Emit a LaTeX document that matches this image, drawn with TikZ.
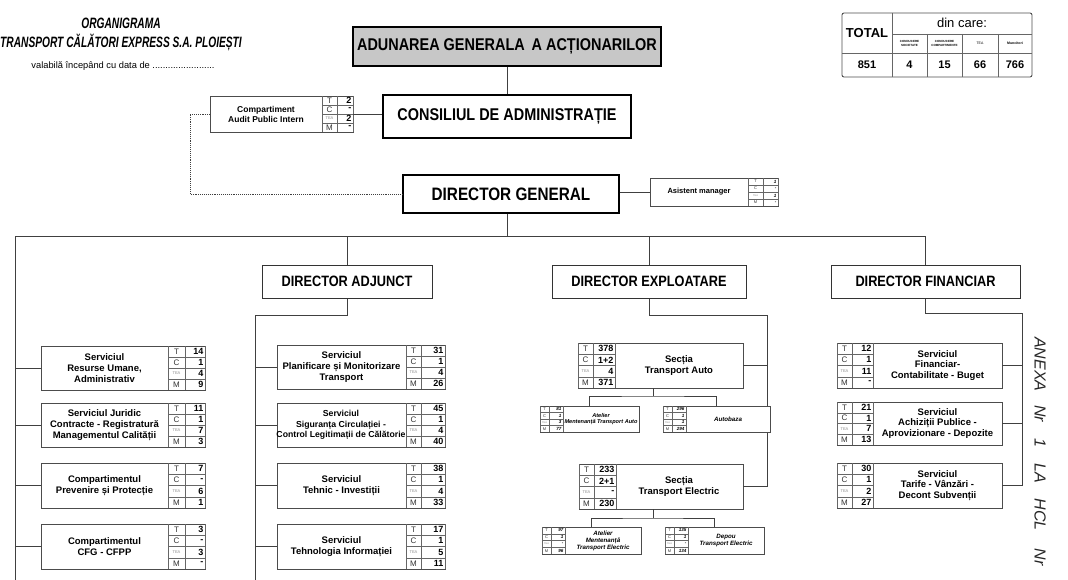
\documentclass[tikz,border=0pt]{standalone}
\usepackage{fontspec}
\setmainfont{Liberation Sans}
\newfontfamily\cnd[FakeStretch=0.85]{Liberation Sans}
\newfontfamily\cndt[FakeStretch=0.68]{Liberation Sans}
\newcommand{\rbox}[5]{\node[bx, anchor=north west, minimum width={(#4)-(#2)}, minimum height={(#5)-(#3)}] (#1) at (#2,#3) {};}
\newcommand{\tb}[8]{%
 \draw[gl] (#2,#5) -- (#2,#6) (#3,#5) -- (#3,#6) (#4,#5) -- (#4,#6);
 \foreach \k in {1,2,3}{\draw[gl] (#2,{#5+\k*(#6-#5)/4}) -- (#4,{#5+\k*(#6-#5)/4});}
 \node[tl#8] (#1-lT) at ({(#2+#3)/2},{#5+0.5*(#6-#5)/4}) {T};
 \node[tl#8] (#1-lC) at ({(#2+#3)/2},{#5+1.5*(#6-#5)/4}) {C};
 \node[tt#8] (#1-lE) at ({(#2+#3)/2},{#5+2.5*(#6-#5)/4}) {TEA};
 \node[tl#8] (#1-lM) at ({(#2+#3)/2},{#5+3.5*(#6-#5)/4}) {M};
 \foreach \vv [count=\i] in {#7}{\node[tv#8] (#1-v\i) at ({#4-1.5},{#5+(\i-0.5)*(#6-#5)/4}) {\vv};}
}
\tikzset{
 ln/.style={draw=black!75, line width=0.9pt},
 bx/.style={draw=black!70, line width=0.8pt, fill=white, inner sep=0pt, outer sep=0pt},
 gl/.style={draw=black!60, line width=0.5pt},
 tlB/.style={inner sep=0pt, font=\fontsize{8}{8}\selectfont, text=black!80},
 ttB/.style={inner sep=0pt, font=\fontsize{4}{4}\selectfont, text=black!45},
 tvB/.style={inner sep=0pt, anchor=east, font=\bfseries\fontsize{9}{9}\selectfont},
 tlS/.style={inner sep=0pt, font=\fontsize{4}{4}\selectfont, text=black!80},
 ttS/.style={inner sep=0pt, font=\fontsize{2.5}{2.5}\selectfont, text=black!45},
 tvS/.style={inner sep=0pt, anchor=east, font=\bfseries\itshape\fontsize{4.5}{4.5}\selectfont},
 tx/.style={inner sep=0pt, align=center, font=\bfseries\fontsize{9.5}{10.8}\selectfont},
 txs/.style={inner sep=0pt, align=center, font=\bfseries\itshape\fontsize{6.2}{7}\selectfont},
 head/.style={draw=black, line width=1.4pt, fill=white, inner sep=0pt, font=\cnd\bfseries\fontsize{17}{17}\selectfont},
 dir/.style={draw=black!80, line width=1pt, fill=white, inner sep=0pt, minimum height=33, font=\cnd\bfseries\fontsize{15}{15}\selectfont},
 tt/.style={inner sep=0pt, align=center}
}
\begin{document}
\begin{tikzpicture}[x=1pt, y=-1pt]
\useasboundingbox (0,0) rectangle (1068,580);
% title
\node[tt, font=\cndt\bfseries\itshape\fontsize{15}{15}\selectfont] (t1) at (121,23) {ORGANIGRAMA};
\node[tt, font=\cndt\bfseries\itshape\fontsize{15}{15}\selectfont] (t2) at (121,42) {TRANSPORT CĂLĂTORI EXPRESS S.A. PLOIEȘTI};
\node[tt, font=\fontsize{9.3}{10}\selectfont] (t3) at (123,66) {valabilă începând cu data de ........................};
% summary table
\draw[draw=black!70, line width=0.9pt, rounded corners=2pt] (842,13) rectangle (1032,77);
\draw[gl, line width=0.7pt] (892,13) -- (892,77) (892,34) -- (1032,34) (842,53) -- (1032,53)
  (927,34) -- (927,77) (962,34) -- (962,77) (998,34) -- (998,77);
\node[tt, font=\bfseries\fontsize{13}{13}\selectfont] (tot) at (867,33) {TOTAL};
\node[tt, font=\fontsize{13}{13}\selectfont] (din) at (962,23) {din care:};
\node[tt, font=\bfseries\fontsize{3}{3.6}\selectfont] (h1) at (909.5,43.5) {CONDUCERE\\SOCIETATE};
\node[tt, font=\bfseries\fontsize{3}{3.6}\selectfont] (h2) at (944.5,43.5) {CONDUCERE\\COMPARTIMENTE};
\node[tt, font=\fontsize{3.5}{3.6}\selectfont] (h3) at (980,43.5) {TEA};
\node[tt, font=\bfseries\fontsize{3.5}{3.6}\selectfont] (h4) at (1015,43.5) {Muncitori};
\foreach \xx/\vv/\nn in {867/851/a,909.5/4/b,944.5/15/c,980/66/d,1015/766/e}
  {\node[tt, font=\bfseries\fontsize{11}{11}\selectfont] (tv\nn) at (\xx,65) {\vv};}
% top hierarchy
\node[head, fill=black!22, minimum width=308, minimum height=39] (aga) at (507,46.5) {ADUNAREA GENERALA\, A ACȚIONARILOR};
\node[head, minimum width=248, minimum height=43] (cda) at (507,116.5) {CONSILIUL DE ADMINISTRAȚIE};
\node[head, minimum width=216, minimum height=38, font=\cnd\bfseries\fontsize{18}{18}\selectfont] (dg) at (511,194) {DIRECTOR GENERAL};
\draw[ln] (aga.south) -- (aga.south |- cda.north);
\draw[ln] (cda.south -| aga.south) -- (cda.south -| aga.south |- dg.north);
% audit
\rbox{aud}{210}{96}{353}{132}
\node[tx, font=\bfseries\fontsize{8.5}{10}\selectfont] (aud-t) at (266,114) {Compartiment\\Audit Public Intern};
\tb{audt}{322}{337}{353}{96}{132}{2,-,2,-}{B}
\draw[ln] (aud.east) -- (aud.east -| cda.west);
\coordinate (dl) at (190,194);
\draw[ln, densely dotted] (aud.west) -| (dl) -- (dg.west);
% asistent
\rbox{asm}{650}{178}{778}{206}
\node[tx, font=\bfseries\fontsize{7.5}{9}\selectfont] (asm-t) at (699,192) {Asistent manager};
\tb{asmt}{748}{763}{778}{178}{206}{1,-,1,-}{S}
\draw[ln] (dg.east |- asm.west) -- (asm.west);
% bus
\coordinate (lb) at (15,236);
\draw[ln] (aga.south |- dg.south) -- (aga.south |- lb);
\node[dir, minimum width=170] (da) at (347,281.5) {DIRECTOR ADJUNCT};
\node[dir, minimum width=194] (de) at (649,281.5) {DIRECTOR EXPLOATARE};
\node[dir, minimum width=189] (df) at (925.5,281.5) {DIRECTOR FINANCIAR};
\draw[ln] (15,585) -- (lb) -- (df.north |- lb) -- (df.north);
\draw[ln] (da.north |- lb) -- (da.north);
\draw[ln] (de.north |- lb) -- (de.north);
% left column
\rbox{ru}{41}{346}{205}{390}
\node[tx] (ru-t) at (104.5,368) {Serviciul\\Resurse Umane,\\Administrativ};
\tb{rut}{168}{185}{205}{346}{390}{14,1,4,9}{B}
\rbox{jur}{41}{403}{205}{447}
\node[tx] (jur-t) at (104.5,425) {Serviciul Juridic\\Contracte - Registratură\\Managementul Calității};
\tb{jurt}{168}{185}{205}{403}{447}{11,1,7,3}{B}
\rbox{prev}{41}{463}{205}{508}
\node[tx] (prev-t) at (104.5,485.5) {Compartimentul\\Prevenire și Protecție};
\tb{prevt}{168}{185}{205}{463}{508}{7,-,6,1}{B}
\rbox{cfg}{41}{524}{205}{569}
\node[tx] (cfg-t) at (104.5,546.5) {Compartimentul\\CFG - CFPP};
\tb{cfgt}{168}{185}{205}{524}{569}{3,-,3,-}{B}
\foreach \n in {ru,jur,prev,cfg}{\draw[ln] (\n.west) -- (\n.west -| lb);}
% director adjunct column
\coordinate (c2) at (255,315);
\draw[ln] (da.south) -- (da.south |- c2) -- (c2) -- (255,585);
\rbox{pl}{277}{345}{445}{389}
\node[tx] (pl-t) at (341.5,367) {Serviciul\\Planificare și Monitorizare\\Transport};
\tb{plt}{406}{421}{445}{345}{389}{31,1,4,26}{B}
\rbox{sig}{277}{403}{445}{447}
\node[tx, font=\bfseries\fontsize{8.7}{10.8}\selectfont] (sig-t) at (341,425) {Serviciul\\Siguranța Circulației -\\Control Legitimații de Călătorie};
\tb{sigt}{406}{421}{445}{403}{447}{45,1,4,40}{B}
\rbox{teh}{277}{463}{445}{508}
\node[tx] (teh-t) at (341.5,485.5) {Serviciul\\Tehnic - Investiții};
\tb{teht}{406}{421}{445}{463}{508}{38,1,4,33}{B}
\rbox{ti}{277}{524}{445}{569}
\node[tx] (ti-t) at (341.5,546.5) {Serviciul\\Tehnologia Informației};
\tb{tit}{406}{421}{445}{524}{569}{17,1,5,11}{B}
\foreach \n in {pl,sig,teh,ti}{\draw[ln] (\n.west) -- (\n.west -| c2);}
% director exploatare column
\coordinate (c3) at (767,315);
\rbox{sta}{578}{343}{743}{388}
\node[tx] (sta-t) at (679,365.5) {Secția\\Transport Auto};
\tb{stat}{578}{593}{615}{343}{388}{378,1+2,4,371}{B}
\rbox{ste}{579}{464}{743}{509}
\node[tx] (ste-t) at (679,486.5) {Secția\\Transport Electric};
\tb{stet}{579}{594}{616}{464}{509}{233,2+1,-,230}{B}
\draw[ln] (de.south) -- (de.south |- c3) -- (c3) -- (c3 |- ste.east);
\draw[ln] (sta.east) -- (sta.east -| c3);
\draw[ln] (ste.east) -- (ste.east -| c3);
% sub boxes auto
\rbox{aa1}{540}{406}{639}{432}
\node[txs, font=\bfseries\itshape\fontsize{5.6}{6}\selectfont] (aa1-t) at (601,419) {Atelier\\Mentenanță Transport Auto};
\tb{aa1t}{540}{549}{563}{406}{432}{81,1,3,77}{S}
\rbox{aa2}{663}{406}{770}{432}
\node[txs] (aa2-t) at (728,419) {Autobaza};
\tb{aa2t}{663}{672}{686}{406}{432}{296,1,1,294}{S}
\coordinate (j1) at (653,396);
\draw[ln] (sta.south -| j1) -- (j1);
\draw[ln] (aa1.north) |- (j1) -| (aa2.north);
% sub boxes electric
\rbox{ae1}{542}{527}{641}{554}
\node[txs] (ae1-t) at (603,540.5) {Atelier\\Mentenanță\\Transport Electric};
\tb{ae1t}{542}{551}{565}{527}{554}{97,1,-,96}{S}
\rbox{ae2}{665}{527}{764}{554}
\node[txs] (ae2-t) at (726,540.5) {Depou\\Transport Electric};
\tb{ae2t}{665}{674}{688}{527}{554}{135,1,-,134}{S}
\coordinate (j2) at (653,518);
\draw[ln] (ste.south -| j2) -- (j2);
\draw[ln] (ae1.north) |- (j2) -| (ae2.north);
% director financiar column
\coordinate (c4) at (1022,313);
\rbox{fin}{837}{343}{1002}{388}
\node[tx] (fin-t) at (937.5,365.5) {Serviciul\\Financiar-\\Contabilitate - Buget};
\tb{fint}{837}{852}{873}{343}{388}{12,1,11,-}{B}
\rbox{ach}{837}{402}{1002}{445}
\node[tx] (ach-t) at (937.5,423.5) {Serviciul\\Achiziții Publice -\\Aprovizionare - Depozite};
\tb{acht}{837}{852}{873}{402}{445}{21,1,7,13}{B}
\rbox{tar}{837}{463}{1002}{508}
\node[tx] (tar-t) at (937.5,485.5) {Serviciul\\Tarife - Vânzări -\\Decont Subvenții};
\tb{tart}{837}{852}{873}{463}{508}{30,1,2,27}{B}
\draw[ln] (df.south) -- (df.south |- c4) -- (c4) -- (c4 |- tar.east);
\foreach \n in {fin,ach,tar}{\draw[ln] (\n.east) -- (\n.east -| c4);}
% handwritten note
\node[inner sep=0pt, anchor=west, rotate=-90, font=\itshape\fontsize{16}{16}\selectfont, text=black!85] (anx) at (1040,337) {ANEXA\hspace{14pt}Nr\hspace{16pt}1\hspace{16pt}LA\hspace{16pt}HCL\hspace{18pt}Nr};
\end{tikzpicture}
\end{document}
